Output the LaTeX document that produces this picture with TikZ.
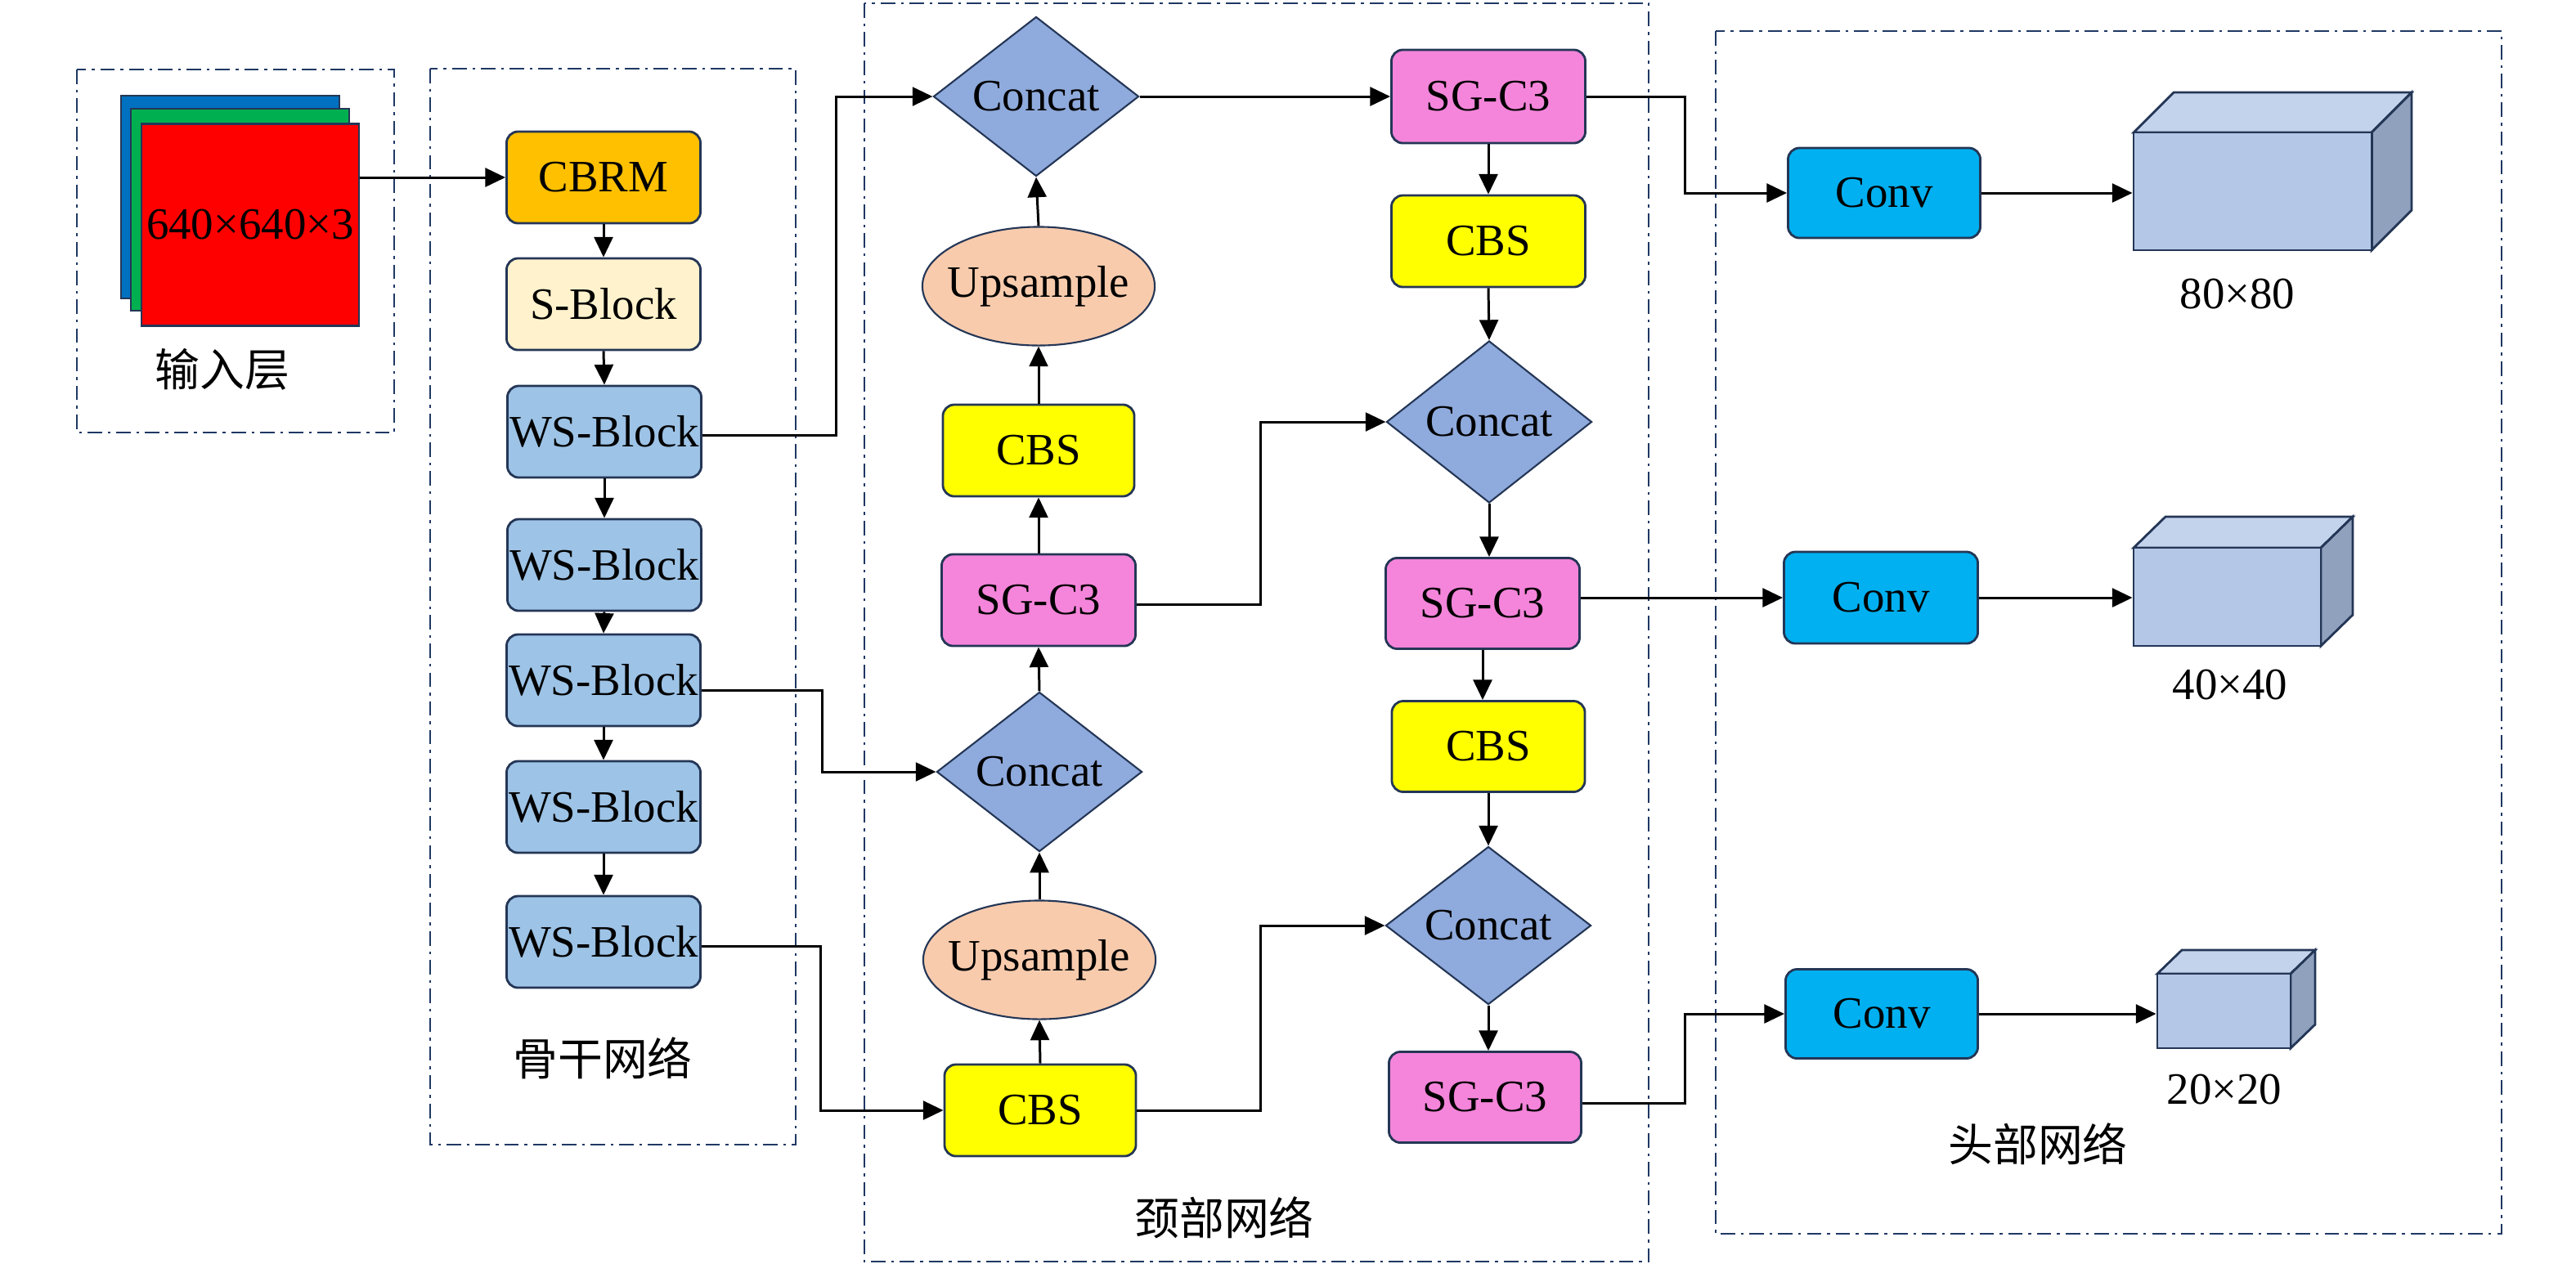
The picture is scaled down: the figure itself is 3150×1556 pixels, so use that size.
\documentclass[tikz,border=0pt]{standalone}
\usepackage{fontspec}
\setmainfont{Liberation Serif}
\newfontfamily\cjk{Noto Sans CJK SC}
\usetikzlibrary{arrows.meta,shapes.geometric}
\definecolor{edgec}{HTML}{243656}
\definecolor{grpc}{HTML}{1F3864}
\definecolor{cOrange}{HTML}{FFC000}
\definecolor{cCream}{HTML}{FFF2CC}
\definecolor{cWs}{HTML}{9DC3E6}
\definecolor{cConcat}{HTML}{8FAADC}
\definecolor{cUp}{HTML}{F8CBAD}
\definecolor{cCbs}{HTML}{FFFF00}
\definecolor{cSg}{HTML}{F485DA}
\definecolor{cConv}{HTML}{00B0F0}
\definecolor{cubeF}{HTML}{B4C7E7}
\definecolor{cubeT}{HTML}{C4D3EC}
\definecolor{cubeS}{HTML}{8FA1BD}
\definecolor{inBlue}{HTML}{0070C0}
\definecolor{inGreen}{HTML}{00B050}
\definecolor{inRed}{HTML}{FF0000}
\begin{document}
\begin{tikzpicture}[x=0.01cm,y=-0.01cm,
  font=\fontsize{15.6}{18}\selectfont,
  blk/.style={draw=edgec, line width=0.8pt, rounded corners=0.14cm,
    minimum width=2.37cm, minimum height=1.12cm, inner sep=0pt},
  wsblk/.style={blk, fill=cWs},
  cbsblk/.style={blk, fill=cCbs, minimum width=2.34cm},
  sgblk/.style={blk, fill=cSg},
  convblk/.style={blk, fill=cConv, minimum width=2.35cm, minimum height=1.1cm},
  concatnode/.style={diamond, draw=edgec, line width=0.6pt, fill=cConcat,
    minimum width=2.51cm, minimum height=1.95cm, inner sep=0pt},
  upnode/.style={ellipse, draw=edgec, line width=0.6pt, fill=cUp,
    minimum width=2.84cm, minimum height=1.45cm, inner sep=0pt},
  arr/.style={-{Triangle[length=7pt,width=6.5pt]}, line width=0.85pt},
  grp/.style={draw=grpc, line width=0.7pt, dash pattern=on 5pt off 2pt on 1pt off 2pt},
  cubeedge/.style={draw=edgec, line width=0.8pt},
  lbl/.style={inner sep=0pt}
]
\useasboundingbox (0,0) rectangle (3150,1556);

% group frames
\draw[grp] (94,85) rectangle (482,529);
\draw[grp] (526,84) rectangle (973,1400);
\draw[grp] (1057,4) rectangle (2016,1543);
\draw[grp] (2098,38) rectangle (3059,1509);

% input layer
\draw[cubeedge, fill=inBlue] (148,117) rectangle (415,365);
\draw[cubeedge, fill=inGreen] (160,133) rectangle (427,380);
\node[cubeedge, fill=inRed, minimum width=2.66cm, minimum height=2.47cm, inner sep=0pt] (input) at (306,275) {640×640×3};
\node[lbl] (inlbl) at (272,452) {\cjk 输入层};

% backbone
\node[blk, fill=cOrange] (cbrm) at (738,217) {CBRM};
\node[blk, fill=cCream] (sblk) at (738,372) {S-Block};
\node[wsblk] (ws1) at (739,528) {WS-Block};
\node[wsblk] (ws2) at (739,691) {WS-Block};
\node[wsblk] (ws3) at (738,832) {WS-Block};
\node[wsblk] (ws4) at (738,987) {WS-Block};
\node[wsblk] (ws5) at (738,1152) {WS-Block};
\node[lbl] (bblbl) at (737,1294) {\cjk 骨干网络};

% neck left column
\node[concatnode] (concatL1) at (1267,118) {Concat};
\node[upnode] (upL1) at (1270,350) {\makebox[0pt]{Upsample}};
\node[cbsblk] (cbsL1) at (1270,551) {CBS};
\node[sgblk] (sgL) at (1270,734) {SG-C3};
\node[concatnode] (concatL2) at (1271,944) {Concat};
\node[upnode] (upL2) at (1271,1174) {\makebox[0pt]{Upsample}};
\node[cbsblk] (cbsL2) at (1272,1358) {CBS};

% neck right column
\node[sgblk, minimum height=1.14cm] (sgR1) at (1820,118) {SG-C3};
\node[cbsblk, minimum width=2.37cm] (cbsR1) at (1820,295) {CBS};
\node[concatnode, minimum height=1.98cm] (concatR1) at (1821,516) {Concat};
\node[sgblk, minimum height=1.11cm] (sgR2) at (1813,738) {SG-C3};
\node[cbsblk, minimum width=2.36cm, minimum height=1.11cm] (cbsR2) at (1820,913) {CBS};
\node[concatnode, minimum height=1.93cm] (concatR2) at (1820,1132) {Concat};
\node[sgblk, minimum width=2.35cm, minimum height=1.11cm] (sgR3) at (1816,1342) {SG-C3};
\node[lbl] (necklbl) at (1497,1489) {\cjk 颈部网络};

% head
\node[convblk] (conv1) at (2304,236) {Conv};
\node[convblk, minimum width=2.37cm, minimum height=1.12cm] (conv2) at (2300,731) {Conv};
\node[convblk, minimum height=1.09cm] (conv3) at (2301,1240) {Conv};

% cubes
\draw[cubeedge, fill=cubeT] (2609,162) -- (2658,113) -- (2949,113) -- (2900,162) -- cycle;
\draw[cubeedge, fill=cubeS] (2900,162) -- (2949,113) -- (2949,257) -- (2900,306) -- cycle;
\node[cubeedge, fill=cubeF, minimum width=2.91cm, minimum height=1.44cm, inner sep=0pt] (cube1) at (2754.5,234) {};
\draw[cubeedge, fill=cubeT] (2609,670) -- (2648,632) -- (2877,632) -- (2838,670) -- cycle;
\draw[cubeedge, fill=cubeS] (2838,670) -- (2877,632) -- (2877,752) -- (2838,790) -- cycle;
\node[cubeedge, fill=cubeF, minimum width=2.29cm, minimum height=1.2cm, inner sep=0pt] (cube2) at (2723.5,730) {};
\draw[cubeedge, fill=cubeT] (2638,1191) -- (2668,1162) -- (2831,1162) -- (2801,1191) -- cycle;
\draw[cubeedge, fill=cubeS] (2801,1191) -- (2831,1162) -- (2831,1253) -- (2801,1282) -- cycle;
\node[cubeedge, fill=cubeF, minimum width=1.63cm, minimum height=0.91cm, inner sep=0pt] (cube3) at (2719.5,1236.5) {};
\node[lbl] (s80) at (2736,360) {80×80};
\node[lbl] (s40) at (2727,837) {40×40};
\node[lbl] (s20) at (2720,1332) {20×20};
\node[lbl] (headlbl) at (2492,1399) {\cjk 头部网络};

% connectors: backbone
\draw[arr] (input.east |- cbrm.west) -- (cbrm.west);
\draw[arr] (cbrm.south) -- (sblk.north);
\draw[arr] (sblk.south) -- (ws1.north);
\draw[arr] (ws1.south) -- (ws2.north);
\draw[arr] (ws2.south) -- (ws3.north);
\draw[arr] (ws3.south) -- (ws4.north);
\draw[arr] (ws4.south) -- (ws5.north);

% backbone -> neck
\draw[arr] ([yshift=-0.04cm]ws1.east) -- ++(164,0) |- (concatL1.west);
\draw[arr] ([yshift=-0.12cm]ws3.east) -- ++(148,0) |- (concatL2.west);
\draw[arr] ([yshift=-0.05cm]ws5.east) -- ++(146,0) |- (cbsL2.west);

% neck left column (upwards)
\draw[arr] (cbsL2.north) -- (upL2.south);
\draw[arr] (upL2.north) -- (concatL2.south);
\draw[arr] (concatL2.north) -- (sgL.south);
\draw[arr] (sgL.north) -- (cbsL1.south);
\draw[arr] (cbsL1.north) -- (upL1.south);
\draw[arr] (upL1.north) -- (concatL1.south);

% neck cross links
\draw[arr] (concatL1.east) -- (sgR1.west);
\draw[arr] ([yshift=-0.05cm]sgL.east) -- ++(152,0) |- (concatR1.west);
\draw[arr] (cbsL2.east) -- ++(151,0) |- (concatR2.west);

% neck right column (downwards)
\draw[arr] (sgR1.south) -- (cbsR1.north);
\draw[arr] (cbsR1.south) -- (concatR1.north);
\draw[arr] (concatR1.south) -- (concatR1.south |- sgR2.north);
\draw[arr] (sgR2.south) -- (sgR2.south |- cbsR2.north);
\draw[arr] (cbsR2.south) -- (concatR2.north);
\draw[arr] (concatR2.south) -- (concatR2.south |- sgR3.north);

% neck -> head
\draw[arr] (sgR1.east) -- ++(121,0) |- (conv1.west);
\draw[arr] (conv2.west -| sgR2.east) -- (conv2.west);
\draw[arr] ([yshift=-0.07cm]sgR3.east) -- ++(126,0) |- (conv3.west);

% head -> outputs
\draw[arr] (conv1.east) -- (conv1.east -| cube1.west);
\draw[arr] (conv2.east) -- (conv2.east -| cube2.west);
\draw[arr] (conv3.east) -- (conv3.east -| cube3.west);
\end{tikzpicture}
\end{document}
